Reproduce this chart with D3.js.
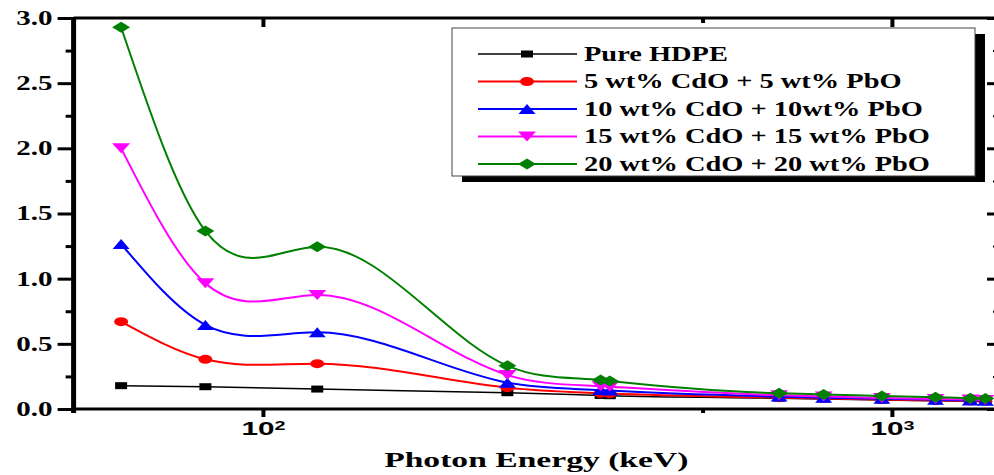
<!DOCTYPE html>
<html lang="en">
<head>
  <meta charset="UTF-8" />
  <title>Linear attenuation vs photon energy</title>
  <style>
    body { margin: 0; background: #fff; }
    svg { display: block; }
  </style>
</head>
<body>
  <svg id="chart" width="994" height="475"></svg>

  <script src="https://d3js.org/d3.v7.min.js"></script>
  <script>
    // data
    const energies = [59.5, 81, 122, 244.7, 344.3, 356, 661.7, 778.9, 964, 1173, 1332, 1408];
    const pureHDPE = [0.179, 0.171, 0.153, 0.125, 0.104, 0.102, 0.083, 0.077, 0.070, 0.063, 0.059, 0.058];
    const cdo5     = [0.670, 0.381, 0.348, 0.164, 0.121, 0.118, 0.087, 0.080, 0.073, 0.066, 0.062, 0.060];
    const cdo10    = [1.266, 0.645, 0.588, 0.202, 0.145, 0.141, 0.095, 0.087, 0.078, 0.071, 0.066, 0.064];
    const cdo15    = [2.000, 0.964, 0.875, 0.261, 0.175, 0.171, 0.105, 0.096, 0.085, 0.077, 0.072, 0.070];
    const cdo20    = [2.929, 1.366, 1.245, 0.332, 0.222, 0.215, 0.120, 0.112, 0.100, 0.090, 0.083, 0.081];

    const seriesNames = [
      "Pure HDPE",
      "5 wt% CdO + 5 wt% PbO",
      "10 wt% CdO + 10wt% PbO",
      "15 wt% CdO + 15 wt% PbO",
      "20 wt% CdO + 20 wt% PbO"
    ];
    const seriesValues = [pureHDPE, cdo5, cdo10, cdo15, cdo20];
    const seriesColors = ["#000000", "#ff0000", "#0000ff", "#ff00ff", "#008000"];

    const yMajor = [0, 0.5, 1.0, 1.5, 2.0, 2.5, 3.0];
    const yMinor = [0.25, 0.75, 1.25, 1.75, 2.25, 2.75];
    const xMajor = [100, 1000];
    const xMinor = [500];

    const svg = d3.select("#chart");
    const serif = "'Liberation Serif', 'Times New Roman', serif";
    const sans = "'Liberation Sans', Arial, sans-serif";
    const SX = 1.45; // the original picture is stretched sideways

    const x = d3.scaleLog().domain([50, 1480]).range([73.6, 999]);
    const y = d3.scaleLinear().domain([0, 3]).range([409, 18]);
    const [x0, x1] = x.range();
    const [yb, yt] = y.range();

    function stretch(sel, k) {
      sel.each(function() {
        const w = this.getComputedTextLength();
        d3.select(this).attr("textLength", w * k).attr("lengthAdjust", "spacingAndGlyphs");
      });
    }

    // natural cubic spline, y as a function of x (screen space)
    function curveSplineX(context) {
      let pts;
      return {
        areaStart() {}, areaEnd() {},
        lineStart() { pts = []; },
        point(px, py) { pts.push([px, py]); },
        lineEnd() {
          const n = pts.length;
          if (!n) return;
          context.moveTo(pts[0][0], pts[0][1]);
          if (n < 3) { pts.slice(1).forEach(p => context.lineTo(p[0], p[1])); return; }
          const h = [], M = new Array(n).fill(0);
          for (let i = 0; i < n - 1; i++) h.push(pts[i + 1][0] - pts[i][0]);
          // tridiagonal solve for second derivatives
          const a = [], b = [], c = [], d = [];
          for (let i = 1; i < n - 1; i++) {
            a.push(h[i - 1]);
            b.push(2 * (h[i - 1] + h[i]));
            c.push(h[i]);
            d.push(6 * ((pts[i + 1][1] - pts[i][1]) / h[i] - (pts[i][1] - pts[i - 1][1]) / h[i - 1]));
          }
          const m = b.length;
          for (let i = 1; i < m; i++) {
            const w = a[i] / b[i - 1];
            b[i] -= w * c[i - 1];
            d[i] -= w * d[i - 1];
          }
          const sol = new Array(m);
          sol[m - 1] = d[m - 1] / b[m - 1];
          for (let i = m - 2; i >= 0; i--) sol[i] = (d[i] - c[i] * sol[i + 1]) / b[i];
          for (let i = 0; i < m; i++) M[i + 1] = sol[i];
          for (let i = 0; i < n - 1; i++) {
            const [xa, ya] = pts[i], [xb, yb2] = pts[i + 1], hi = h[i];
            const s = (yb2 - ya) / hi;
            const m0 = s - hi * (2 * M[i] + M[i + 1]) / 6;
            const m1 = s + hi * (M[i] + 2 * M[i + 1]) / 6;
            context.bezierCurveTo(xa + hi / 3, ya + m0 * hi / 3, xb - hi / 3, yb2 - m1 * hi / 3, xb, yb2);
          }
        }
      };
    }

    // marker shapes of unit half-size, scaled per series
    const unitSquare = { draw(ctx) { ctx.rect(-1, -1, 2, 2); } };
    const unitCircle = { draw(ctx) { ctx.moveTo(1, 0); ctx.arc(0, 0, 1, 0, 2 * Math.PI); } };
    const unitUp = { draw(ctx) { ctx.moveTo(0, -1); ctx.lineTo(1, 1); ctx.lineTo(-1, 1); ctx.closePath(); } };
    const unitDown = { draw(ctx) { ctx.moveTo(-1, -1); ctx.lineTo(1, -1); ctx.lineTo(0, 1); ctx.closePath(); } };
    const unitDiamond = { draw(ctx) { ctx.moveTo(0, -1); ctx.lineTo(1, 0); ctx.lineTo(0, 1); ctx.lineTo(-1, 0); ctx.closePath(); } };
    const markers = [
      { type: unitSquare, sx: 6, sy: 3.5 },
      { type: unitCircle, sx: 7, sy: 4.5 },
      { type: unitUp, sx: 8.5, sy: 5 },
      { type: unitDown, sx: 9, sy: 5 },
      { type: unitDiamond, sx: 9, sy: 5.5 }
    ];
    const lineWidths = [1.5, 2, 2, 2, 2];

    const line = d3.line()
      .x(d => x(d[0]))
      .y(d => y(d[1]))
      .curve(curveSplineX);

    // series
    const plot = svg.append("g");
    seriesValues.forEach((vals, i) => {
      const pts = energies.map((e, j) => [e, vals[j]]);
      plot.append("path")
        .attr("d", line(pts))
        .attr("fill", "none")
        .attr("stroke", seriesColors[i])
        .attr("stroke-width", lineWidths[i]);
      const mk = markers[i];
      plot.selectAll(null)
        .data(pts)
        .enter()
        .append("path")
        .attr("d", d3.symbol().type(mk.type))
        .attr("transform", d => `translate(${x(d[0])},${y(d[1])}) scale(${mk.sx},${mk.sy})`)
        .attr("fill", seriesColors[i]);
    });

    // axes
    function styleAxis(g, w) {
      g.select(".domain").remove();
      g.selectAll(".tick line").attr("stroke", "#000").attr("stroke-width", w);
    }
    const left = svg.append("g").attr("transform", `translate(${x0},0)`);
    left.call(d3.axisLeft(y).tickValues(yMajor).tickSize(16).tickPadding(5).tickFormat(d3.format(".1f")))
      .call(styleAxis, 3);
    left.selectAll(".tick text")
      .attr("font-size", 20).attr("font-family", serif).attr("font-weight", "bold").attr("fill", "#000")
      .call(stretch, SX);
    svg.append("g").attr("transform", `translate(${x0},0)`)
      .call(d3.axisLeft(y).tickValues(yMinor).tickSize(8).tickFormat(""))
      .call(styleAxis, 3);

    svg.append("g").attr("transform", `translate(${x1},0)`)
      .call(d3.axisRight(y).tickValues(yMajor).tickSize(-12).tickFormat(""))
      .call(styleAxis, 3);
    svg.append("g").attr("transform", `translate(${x1},0)`)
      .call(d3.axisRight(y).tickValues(yMinor).tickSize(-6).tickFormat(""))
      .call(styleAxis, 2);

    const bottom = svg.append("g").attr("transform", `translate(0,${yb})`);
    bottom.call(d3.axisBottom(x).tickValues(xMajor).tickSize(8).tickFormat(""))
      .call(styleAxis, 4);
    bottom.selectAll(".tick text").remove();
    bottom.selectAll(".tick").append("text")
      .attr("y", 26)
      .attr("text-anchor", "middle")
      .attr("transform", "scale(1.65,1)")
      .attr("font-size", 18)
      .attr("font-family", sans)
      .attr("font-weight", "bold")
      .attr("fill", "#000")
      .each(function(d) {
        const t = d3.select(this);
        t.append("tspan").text("10");
        t.append("tspan").attr("dy", "-0.45em").attr("font-size", 12).text(Math.round(Math.log10(d)));
      });
    svg.append("g").attr("transform", `translate(0,${yb})`)
      .call(d3.axisBottom(x).tickValues(xMinor).tickSize(4).tickFormat(""))
      .call(styleAxis, 4);

    svg.append("g").attr("transform", `translate(0,${yt})`)
      .call(d3.axisTop(x).tickValues(xMajor).tickSize(-9).tickFormat(""))
      .call(styleAxis, 4);
    svg.append("g").attr("transform", `translate(0,${yt})`)
      .call(d3.axisTop(x).tickValues(xMinor).tickSize(-5).tickFormat(""))
      .call(styleAxis, 4);

    // frame
    svg.append("line").attr("x1", x0).attr("x2", x0).attr("y1", yt - 1).attr("y2", yb + 4)
      .attr("stroke", "#000").attr("stroke-width", 5);
    svg.append("line").attr("x1", x1).attr("x2", x1).attr("y1", yt - 1).attr("y2", yb + 1)
      .attr("stroke", "#000").attr("stroke-width", 5);
    svg.append("line").attr("x1", x0).attr("x2", x1).attr("y1", yb).attr("y2", yb)
      .attr("stroke", "#000").attr("stroke-width", 3);
    svg.append("line").attr("x1", x0).attr("x2", x1).attr("y1", yt).attr("y2", yt)
      .attr("stroke", "#000").attr("stroke-width", 3);

    // x axis title
    svg.append("text")
      .attr("x", (x0 + x1) / 2)
      .attr("y", 467)
      .attr("text-anchor", "middle")
      .attr("font-family", serif)
      .attr("font-weight", "bold")
      .attr("font-size", 21)
      .attr("fill", "#000")
      .text("Photon Energy (keV)")
      .call(stretch, 1.6);

    // legend
    const lg = { x: 452, y: 28, w: 523, h: 148, rowY: 54, rowGap: 27.5 };
    svg.append("rect")
      .attr("x", lg.x + 10).attr("y", lg.y + 6)
      .attr("width", lg.w).attr("height", lg.h)
      .attr("fill", "#000");
    svg.append("rect")
      .attr("x", lg.x).attr("y", lg.y)
      .attr("width", lg.w).attr("height", lg.h)
      .attr("fill", "#fff").attr("stroke", "#444").attr("stroke-width", 1);
    seriesNames.forEach((name, i) => {
      const ry = lg.rowY + i * lg.rowGap;
      svg.append("line")
        .attr("x1", 478).attr("x2", 577).attr("y1", ry).attr("y2", ry)
        .attr("stroke", seriesColors[i]).attr("stroke-width", lineWidths[i]);
      const mk = markers[i];
      svg.append("path")
        .attr("d", d3.symbol().type(mk.type))
        .attr("transform", `translate(527,${ry}) scale(${mk.sx},${mk.sy})`)
        .attr("fill", seriesColors[i]);
      svg.append("text")
        .attr("x", 584).attr("y", ry)
        .attr("dy", "0.33em")
        .attr("font-family", serif).attr("font-weight", "bold").attr("font-size", 20)
        .attr("fill", "#000")
        .text(name)
        .call(stretch, 1.42);
    });
  </script>
</body>
</html>
